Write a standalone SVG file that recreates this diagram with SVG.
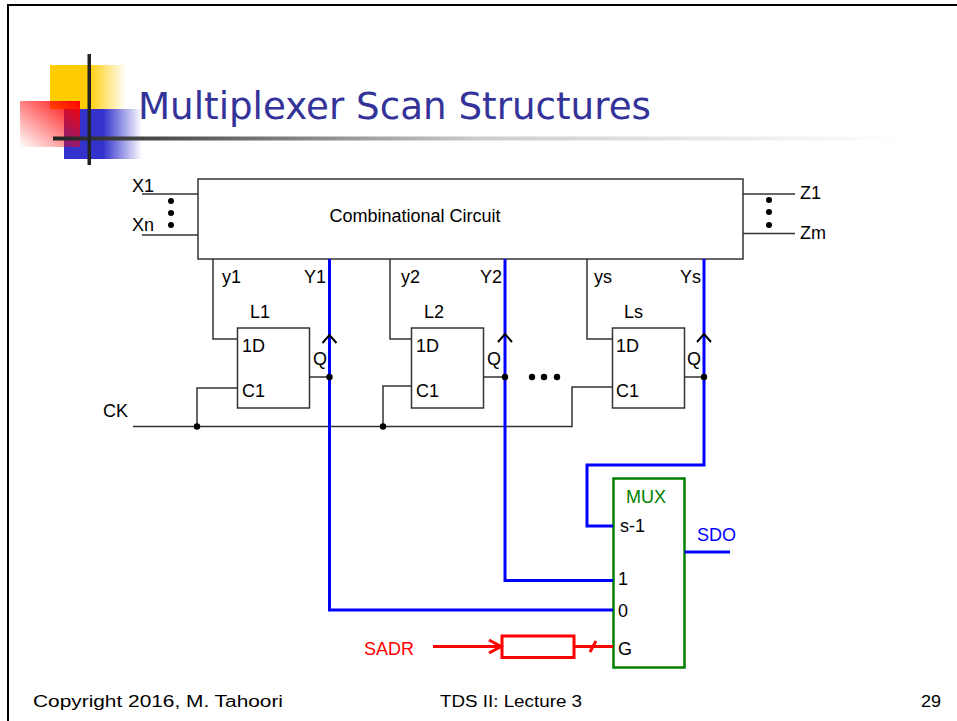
<svg xmlns="http://www.w3.org/2000/svg" width="957" height="721" viewBox="0 0 957 721">
<defs>
<linearGradient id="gY" x1="0" y1="0" x2="1" y2="0"><stop offset="0" stop-color="#ffcc00"/><stop offset="0.5" stop-color="#ffcc00"/><stop offset="1" stop-color="#ffcc00" stop-opacity="0"/></linearGradient>
<linearGradient id="gB" x1="0" y1="0" x2="1" y2="0"><stop offset="0" stop-color="#3333cc"/><stop offset="0.5" stop-color="#3333cc"/><stop offset="1" stop-color="#3333cc" stop-opacity="0"/></linearGradient>
<linearGradient id="gR" x1="1" y1="0" x2="0" y2="1"><stop offset="0" stop-color="#ff0000"/><stop offset="1" stop-color="#ff0000" stop-opacity="0"/></linearGradient>
<linearGradient id="gL" x1="0" y1="0" x2="1" y2="0"><stop offset="0" stop-color="#222"/><stop offset="0.5" stop-color="#ccc"/><stop offset="1" stop-color="#fff"/></linearGradient>
</defs>
<style>
.w{fill:none;stroke:#333;stroke-width:1.5}
.b{fill:none;stroke:#0000ff;stroke-width:3}
.r{fill:none;stroke:#ff0000;stroke-width:3}
.t{font-family:"Liberation Sans",Arial,sans-serif;font-size:18px;fill:#000}
.d{fill:#000}
.f{font-family:"Liberation Sans",Arial,sans-serif;font-size:16px;fill:#000}
</style>
<rect width="957" height="721" fill="#fff"/>
<path d="M8,721 V5 H957" fill="none" stroke="#000" stroke-width="2"/>
<g id="logo">
<rect x="50" y="65" width="76" height="44" fill="url(#gY)"/>
<rect x="64" y="109" width="78" height="50" fill="url(#gB)"/>
<rect x="20" y="101" width="60" height="46" fill="url(#gR)"/>
<rect x="53" y="136.5" width="850" height="4" fill="url(#gL)"/>
<rect x="87.5" y="54" width="3.5" height="111" fill="#222"/>
</g>
<text x="138" y="119" font-family="DejaVu Sans, Verdana, sans-serif" font-size="37" fill="#333399" textLength="513" lengthAdjust="spacingAndGlyphs">Multiplexer Scan Structures</text>

<g id="comb">
<rect x="198" y="179" width="545" height="80" class="w"/>
<text x="415" y="222" class="t" text-anchor="middle">Combinational Circuit</text>
</g>
<g id="inputs">
<text x="132" y="192" class="t">X1</text>
<text x="132" y="231" class="t">Xn</text>
<circle cx="171" cy="201" r="3" class="d"/><circle cx="171" cy="213" r="3" class="d"/><circle cx="171" cy="225" r="3" class="d"/>
</g>
<g id="outputs">
<text x="800" y="199" class="t">Z1</text>
<text x="800" y="239" class="t">Zm</text>
<circle cx="769" cy="200" r="3" class="d"/><circle cx="769" cy="212" r="3" class="d"/><circle cx="769" cy="225" r="3" class="d"/>
</g>
<g id="L1">
<rect x="237.5" y="328" width="72" height="80" class="w"/>
<text x="250" y="318" class="t">L1</text>
<text x="242" y="352" class="t">1D</text>
<text x="242" y="397" class="t">C1</text>
<text x="313" y="365" class="t">Q</text>
<text x="222" y="283" class="t">y1</text>
<text x="326" y="283" class="t" text-anchor="end">Y1</text>
</g>
<g id="L2">
<rect x="411.5" y="328" width="72" height="80" class="w"/>
<text x="424" y="318" class="t">L2</text>
<text x="416" y="352" class="t">1D</text>
<text x="416" y="397" class="t">C1</text>
<text x="487" y="365" class="t">Q</text>
<text x="401" y="283" class="t">y2</text>
<text x="502" y="283" class="t" text-anchor="end">Y2</text>
</g>
<g id="Ls">
<rect x="612.5" y="328" width="72" height="80" class="w"/>
<text x="624" y="318" class="t">Ls</text>
<text x="616" y="352" class="t">1D</text>
<text x="616" y="397" class="t">C1</text>
<text x="687" y="365" class="t">Q</text>
<text x="594" y="283" class="t">ys</text>
<text x="701" y="283" class="t" text-anchor="end">Ys</text>
</g>
<g id="ellipsis">
<circle cx="532" cy="377" r="3.2" class="d"/><circle cx="544" cy="377" r="3.2" class="d"/><circle cx="557" cy="377" r="3.2" class="d"/>
</g>
<g id="clock">
<text x="103" y="417" class="t">CK</text>
</g>
<g id="mux">
<rect x="613.5" y="478.5" width="71" height="189" fill="none" stroke="#008000" stroke-width="2.5"/>
<text x="626" y="503" class="t" style="fill:#008000">MUX</text>
<text x="620" y="532" class="t">s-1</text>
<text x="618" y="585" class="t">1</text>
<text x="618" y="617" class="t">0</text>
<text x="618" y="655" class="t">G</text>
</g>
<g id="sdo"><text x="697" y="541" class="t" style="fill:#0000ff">SDO</text></g>
<g id="sadr">
<text x="364" y="655" class="t" style="fill:#ff0000">SADR</text>
<rect x="502" y="636" width="72" height="21.5" class="r"/>
</g>
<g id="connectors">
<path class="w" d="M142,194 H198 M142,235 H198 M743,194 H795 M743,233.5 H795"/>
<path class="w" d="M213,259 V339 H237.5 M390,259 V339 H411.5 M587,259 V339 H612.5"/>
<path class="w" d="M309.5,377 H329 M483.5,377 H505 M684.5,377 H704"/>
<path class="w" d="M133,426.5 H572 V387 H612.5 M197,426.5 V388 H237.5 M383,426.5 V386 H411.5"/>
<circle cx="197" cy="426.5" r="3.2" class="d"/><circle cx="383" cy="426.5" r="3.2" class="d"/>
<path class="b" d="M329.5,259 V610 H613"/>
<path class="b" d="M505,259 V580.5 H613"/>
<path class="b" d="M704,259 V465 H587 V526 H613"/>
<path class="b" d="M684.5,552 H730"/>
<circle cx="329.5" cy="377" r="3.2" class="d"/><circle cx="505" cy="377" r="3.2" class="d"/><circle cx="704" cy="377" r="3.2" class="d"/>
<path d="M322.5,343 L329.5,335 L336.5,343 M498,342 L505,334 L512,342 M697,342 L704,334 L711,342" fill="none" stroke="#000" stroke-width="2"/>
<path class="r" d="M433,646.5 H500 M489,640 L501,646.5 L489,653"/>
<path class="r" d="M574,646.5 H613 M590,652 L596,641" stroke-width="2.5"/>
</g>
<g id="footer">
<text x="33" y="707" class="f" textLength="250" lengthAdjust="spacingAndGlyphs">Copyright 2016, M. Tahoori</text>
<text x="440" y="707" class="f" textLength="142" lengthAdjust="spacingAndGlyphs">TDS II: Lecture 3</text>
<text x="921" y="707" class="f" textLength="20" lengthAdjust="spacingAndGlyphs">29</text>
</g>
</svg>
